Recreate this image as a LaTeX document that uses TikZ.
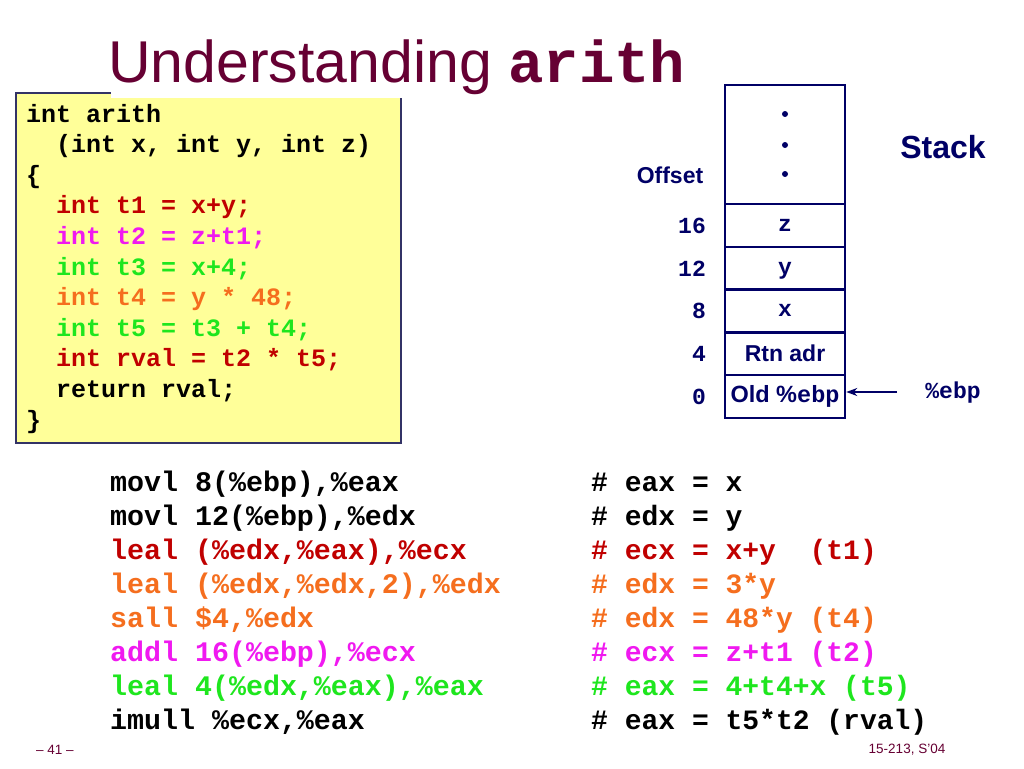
\documentclass[tikz,border=0pt]{standalone}
\usepackage{fontspec}
\setmainfont{Liberation Sans}
\setmonofont{Liberation Mono}
\usetikzlibrary{arrows.meta}
\definecolor{titlecol}{RGB}{102,0,51}
\definecolor{navy}{RGB}{0,0,102}
\definecolor{cred}{RGB}{192,0,0}
\definecolor{cmag}{RGB}{240,25,240}
\definecolor{cgreen}{RGB}{30,230,30}
\definecolor{corange}{RGB}{245,110,30}
\definecolor{boxyellow}{RGB}{255,255,153}
\definecolor{boxedge}{RGB}{51,51,102}
\newcommand\myfs[1]{\fontsize{#1}{#1}\selectfont}
\tikzset{
  codeline/.style={anchor=base west, inner sep=0pt, font=\myfs{25}\ttfamily\bfseries},
  asmline/.style={anchor=base west, inner sep=0pt, font=\myfs{28.3}\ttfamily\bfseries},
  cmtline/.style={anchor=base west, inner sep=0pt, font=\myfs{28}\ttfamily\bfseries},
  cell/.style={draw=navy, line width=2.5pt, minimum width=120pt, inner sep=0pt, text=navy},
  monocell/.style={cell, minimum height=43pt, font=\myfs{23}\ttfamily\bfseries, text height=11pt, text depth=0pt},
  offnum/.style={anchor=east, inner sep=0pt, text=navy, font=\myfs{23}\ttfamily\bfseries},
  footer/.style={inner sep=0pt, text=titlecol, font=\myfs{13.5}},
}
\begin{document}
\begin{tikzpicture}[x=1pt,y=-1pt]
\useasboundingbox[fill=white] (0,0) rectangle (1024,768);
% title
\node[anchor=base west, inner sep=0pt, text=titlecol, font=\myfs{59}] (title) at (108,82) {Understanding \textbf{\ttfamily arith}};
% code box
\node[fill=boxyellow, draw=boxedge, line width=1.5pt, minimum width=385pt, minimum height=350pt, inner sep=0pt] (code) at (208.5,268) {};
\fill[white] (110.5,88) rectangle (404,97.5);
\node[codeline] (c0) at (26,122) {int arith};
\node[codeline] (c1) at (56,152.6) {(int x, int y, int z)};
\node[codeline] (c2) at (26,183.2) {\{};
\node[codeline, text=cred] (c3) at (56,213.8) {int t1 = x+y;};
\node[codeline, text=cmag] (c4) at (56,244.4) {int t2 = z+t1;};
\node[codeline, text=cgreen] (c5) at (56,275) {int t3 = x+4;};
\node[codeline, text=corange] (c6) at (56,305.6) {int t4 = y * 48;};
\node[codeline, text=cgreen] (c7) at (56,336.2) {int t5 = t3 + t4;};
\node[codeline, text=cred] (c8) at (56,366.8) {int rval = t2 * t5;};
\node[codeline] (c9) at (56,397.4) {return rval;};
\node[codeline] (c10) at (26,428) {\}};
% stack
\node[cell, minimum height=119pt] (sdots) at (785,144.5) {};
\fill[navy] (785,114) circle (3);
\fill[navy] (785,145) circle (3);
\fill[navy] (785,174) circle (3);
\node[monocell] (sz) at (785,225.5) {z};
\node[monocell] (sy) at (785,268.5) {y};
\node[monocell] (sx) at (785,311) {x};
\node[cell, minimum height=43pt, font=\myfs{23}\bfseries] (srtn) at (785,353.5) {Rtn adr};
\node[cell, minimum height=43pt, font=\myfs{23.5}\bfseries] (sold) at (785,396.5) {Old \%{\ttfamily ebp}};
\node[inner sep=0pt, text=navy, font=\myfs{23}\bfseries] (offset) at (670,175) {Offset};
\node[inner sep=0pt, text=navy, font=\myfs{32}\bfseries] (stack) at (943,147) {Stack};
\node[offnum] (n16) at (706,225.5) {16};
\node[offnum] (n12) at (706,268.5) {12};
\node[offnum] (n8) at (706,311) {8};
\node[offnum] (n4) at (706,353.5) {4};
\node[offnum] (n0) at (706,396.5) {0};
\node[inner sep=0pt, text=navy, font=\myfs{23}\ttfamily\bfseries] (ebp) at (953,393) {\%ebp};
\coordinate (arrstart) at (897,392);
\draw[navy, line width=2pt, -{Stealth[length=11pt,width=8pt]}] (arrstart) -- (sold.east |- arrstart);
% assembly
\node[asmline] (a0) at (110,491) {movl 8(\%ebp),\%eax};
\node[asmline] (a1) at (110,525) {movl 12(\%ebp),\%edx};
\node[asmline, text=cred] (a2) at (110,559) {leal (\%edx,\%eax),\%ecx};
\node[asmline, text=corange] (a3) at (110,593) {leal (\%edx,\%edx,2),\%edx};
\node[asmline, text=corange] (a4) at (110,627) {sall \$4,\%edx};
\node[asmline, text=cmag] (a5) at (110,661) {addl 16(\%ebp),\%ecx};
\node[asmline, text=cgreen] (a6) at (110,695) {leal 4(\%edx,\%eax),\%eax};
\node[asmline] (a7) at (110,729) {imull \%ecx,\%eax};
\node[cmtline] (b0) at (591,491) {\# eax = x};
\node[cmtline] (b1) at (591,525) {\# edx = y};
\node[cmtline, text=cred] (b2) at (591,559) {\# ecx = x+y\ \ (t1)};
\node[cmtline, text=corange] (b3) at (591,593) {\# edx = 3*y};
\node[cmtline, text=corange] (b4) at (591,627) {\# edx = 48*y (t4)};
\node[cmtline, text=cmag] (b5) at (591,661) {\# ecx = z+t1 (t2)};
\node[cmtline, text=cgreen] (b6) at (591,695) {\# eax = 4+t4+x (t5)};
\node[cmtline] (b7) at (591,729) {\# eax = t5*t2 (rval)};
% footer
\node[footer] (pg) at (55,750) {– 41 –};
\node[footer] (course) at (907,750) {15-213, S’04};
\end{tikzpicture}
\end{document}
